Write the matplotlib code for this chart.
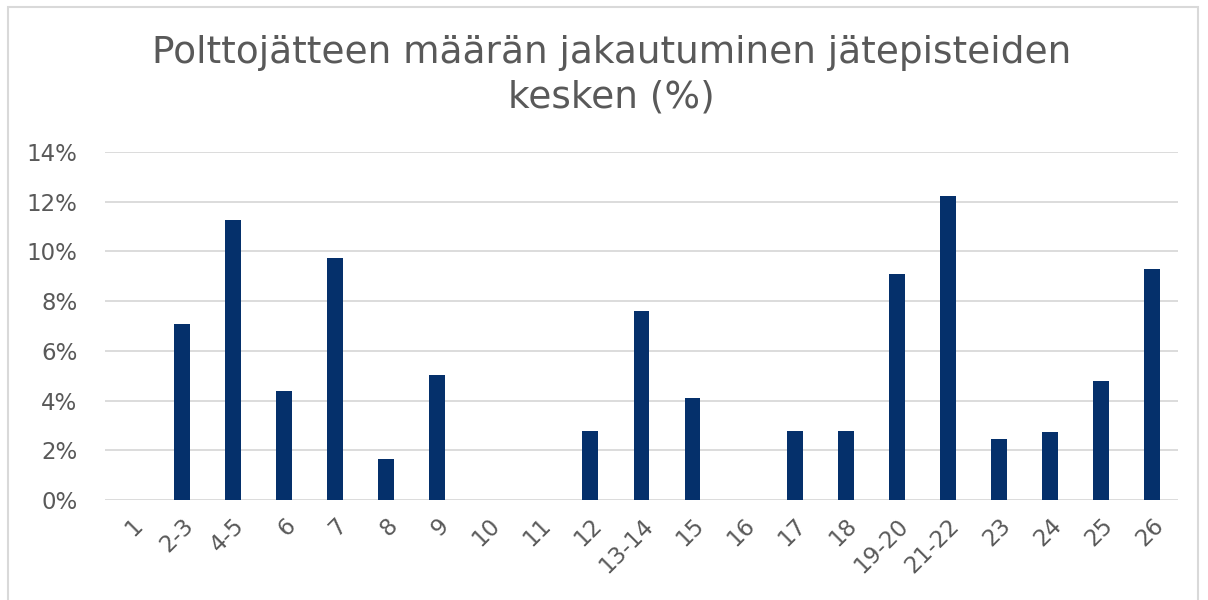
import matplotlib.pyplot as plt
from matplotlib.patches import Rectangle
from matplotlib.ticker import FuncFormatter

# Jätepisteet ja polttojätteen osuus (%)
pisteet = ["1", "2-3", "4-5", "6", "7", "8", "9", "10", "11", "12", "13-14",
           "15", "16", "17", "18", "19-20", "21-22", "23", "24", "25", "26"]
osuudet = [0, 7.08, 11.26, 4.38, 9.73, 1.65, 5.03, 0, 0, 2.78, 7.6,
           4.1, 0, 2.78, 2.78, 9.09, 12.23, 2.45, 2.74, 4.79, 9.29]
y_ticks = [0, 2, 4, 6, 8, 10, 12, 14]

harmaa = "#595959"
plt.rcParams["font.family"] = ["DejaVu Sans"]

fig = plt.figure(figsize=(12.08, 6), dpi=100)
ax = fig.add_axes([0.087, 0.1667, 0.888, 0.58])

x = range(len(pisteet))
ax.bar(x, osuudet, width=0.31, color="#05306b", zorder=3)

ax.set_xlim(-0.5, len(pisteet) - 0.5)
ax.set_ylim(0, 14)
ax.set_yticks(y_ticks)
ax.yaxis.set_major_formatter(FuncFormatter(lambda v, p: f"{v:.0f}%"))
ax.grid(axis="y", color="#d9d9d9", linewidth=1.3, zorder=0)

ax.set_xticks(list(x))
ax.set_xticklabels(pisteet, rotation=45, ha="right", rotation_mode="anchor")
ax.tick_params(axis="both", length=0, colors=harmaa, labelsize=16.5)
ax.tick_params(axis="x", pad=10)
ax.tick_params(axis="y", pad=20)
for s in ax.spines.values():
    s.set_visible(False)

fig.text(0.506, 0.875, "Polttojätteen määrän jakautuminen jätepisteiden\nkesken (%)",
         ha="center", va="center", fontsize=27, color=harmaa, linespacing=1.3)

# ohut reunaviiva kuvan ympärillä
fig.patches.append(Rectangle((8 / 1208, -0.01), 1190 / 1208, 1 - 7 / 600 + 0.01,
                             transform=fig.transFigure, fill=False,
                             edgecolor="#d9d9d9", linewidth=1.5))

fig.savefig("out.png", dpi=100, facecolor="white")
